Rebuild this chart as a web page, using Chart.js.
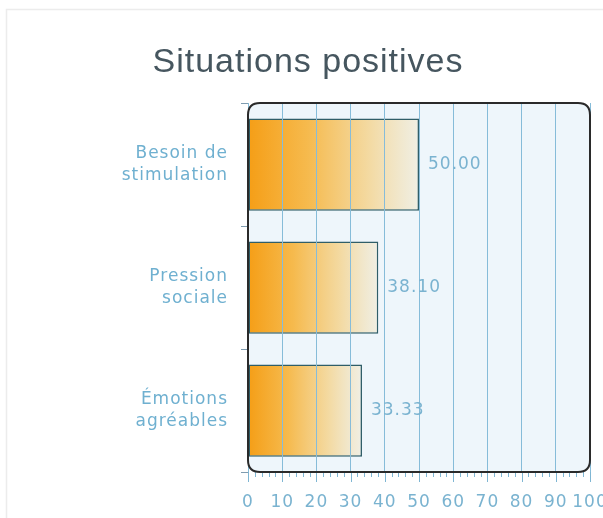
<!DOCTYPE html>
<html><head><meta charset="utf-8">
<script src="https://cdn.jsdelivr.net/npm/chart.js@4"></script>
<style>html,body{margin:0;padding:0;background:#fff}#c{display:block}</style>
</head><body>
<canvas id="c" width="603" height="518"></canvas>
<script>
const titleText = "Situations positives";
const categories = [["Besoin de","stimulation"],["Pression","sociale"],["Émotions","agréables"]];
const values = [50.00, 38.10, 33.33];
const xTicks = [0,10,20,30,40,50,60,70,80,90,100];

const AREA = {left:248, right:590, top:103, bottom:472};
const FONT = '"DejaVu Sans", Verdana, sans-serif';

function rr(ctx,x,y,w,h,r){ctx.beginPath();ctx.moveTo(x+r,y);ctx.lineTo(x+w-r,y);ctx.quadraticCurveTo(x+w,y,x+w,y+r);ctx.lineTo(x+w,y+h-r);ctx.quadraticCurveTo(x+w,y+h,x+w-r,y+h);ctx.lineTo(x+r,y+h);ctx.quadraticCurveTo(x,y+h,x,y+h-r);ctx.lineTo(x,y+r);ctx.quadraticCurveTo(x,y,x+r,y);ctx.closePath();}

const deco = {
  id:'deco',
  beforeDraw(chart){
    const ctx=chart.ctx, a=chart.chartArea;
    ctx.save();
    ctx.fillStyle='#fff';ctx.fillRect(0,0,chart.width,chart.height);
    ctx.strokeStyle='#ececec';ctx.lineWidth=1.5;
    ctx.beginPath();ctx.moveTo(6.5,518);ctx.lineTo(6.5,9.5);ctx.lineTo(603,9.5);ctx.stroke();
    rr(ctx,a.left,a.top,a.right-a.left,a.bottom-a.top,12);
    ctx.fillStyle='#eef6fb';ctx.fill();
    ctx.font='34px "Liberation Sans", Arial, sans-serif';
    ctx.letterSpacing='1px';
    ctx.fillStyle='#46565f';ctx.textAlign='center';ctx.textBaseline='alphabetic';
    ctx.fillText(titleText,308,72);
    ctx.restore();
    ctx.letterSpacing='1px';
  },
  afterDraw(chart){
    const ctx=chart.ctx, a=chart.chartArea, xs=chart.scales.x;
    ctx.save();
    ctx.strokeStyle='#7fb6d3';ctx.lineWidth=1;
    for(let v=0;v<=100;v+=2){
      const px=Math.round(xs.getPixelForValue(v))+0.5;
      const len=(v%10===0)?10:5;
      ctx.beginPath();ctx.moveTo(px,a.bottom);ctx.lineTo(px,a.bottom+len);ctx.stroke();
    }
    rr(ctx,a.left,a.top,a.right-a.left,a.bottom-a.top,12);
    ctx.strokeStyle='#2a2a2a';ctx.lineWidth=2;ctx.stroke();
    const meta=chart.getDatasetMeta(0);
    ctx.font='17px '+FONT;
    ctx.letterSpacing='1px';
    ctx.fillStyle='#7ab3d0';ctx.textAlign='left';ctx.textBaseline='middle';
    meta.data.forEach((bar,i)=>{
      ctx.fillText(values[i].toFixed(2), bar.x+9, bar.y);
    });
    ctx.restore();
  }
};

const ctx=document.getElementById('c').getContext('2d');
function grad(context){
  const chart=context.chart, a=chart.chartArea, xs=chart.scales.x;
  if(!a || !xs || context.raw===undefined) return '#f5a01a';
  const x0=xs.getPixelForValue(0), x1=xs.getPixelForValue(context.raw);
  const g=chart.ctx.createLinearGradient(x0,0,x1,0);
  g.addColorStop(0,'rgba(245,158,22,1)');
  g.addColorStop(0.35,'rgba(246,184,72,0.97)');
  g.addColorStop(0.7,'rgba(244,214,150,0.9)');
  g.addColorStop(1,'rgba(240,237,222,0.8)');
  return g;
}
new Chart(ctx,{
  type:'bar',
  data:{labels:categories,datasets:[{data:values,backgroundColor:grad,borderColor:'#2f5e68',borderWidth:1.5,borderSkipped:false,categoryPercentage:0.75,barPercentage:1}]},
  plugins:[deco],
  options:{
    indexAxis:'y',responsive:false,animation:false,
    layout:{padding:{left:0,right:603-AREA.right,top:AREA.top,bottom:0}},
    plugins:{legend:{display:false},tooltip:{enabled:false},title:{display:false}},
    scales:{
      x:{min:0,max:100,
        afterBuildTicks(s){s.ticks=xTicks.map(v=>({value:v}));},
        afterFit(s){s.height=518-AREA.bottom;s.paddingRight=0;s.paddingLeft=0;},
        border:{display:false},
        grid:{color:'#86bcd9',lineWidth:1,z:1,tickLength:0,drawTicks:false},
        ticks:{color:'#7ab3d0',font:{family:FONT,size:17},padding:20,maxRotation:0,autoSkip:false}
      },
      y:{
        afterFit(s){s.width=AREA.left;s.paddingTop=0;s.paddingBottom=0;},
        border:{display:false},
        grid:{offset:true,drawOnChartArea:false,color:'#7f9cb0',tickLength:7},
        ticks:{color:'#6fb0d0',font:{family:FONT,size:17,lineHeight:1.25},padding:13}
      }
    }
  }
});
</script>
</body></html>
